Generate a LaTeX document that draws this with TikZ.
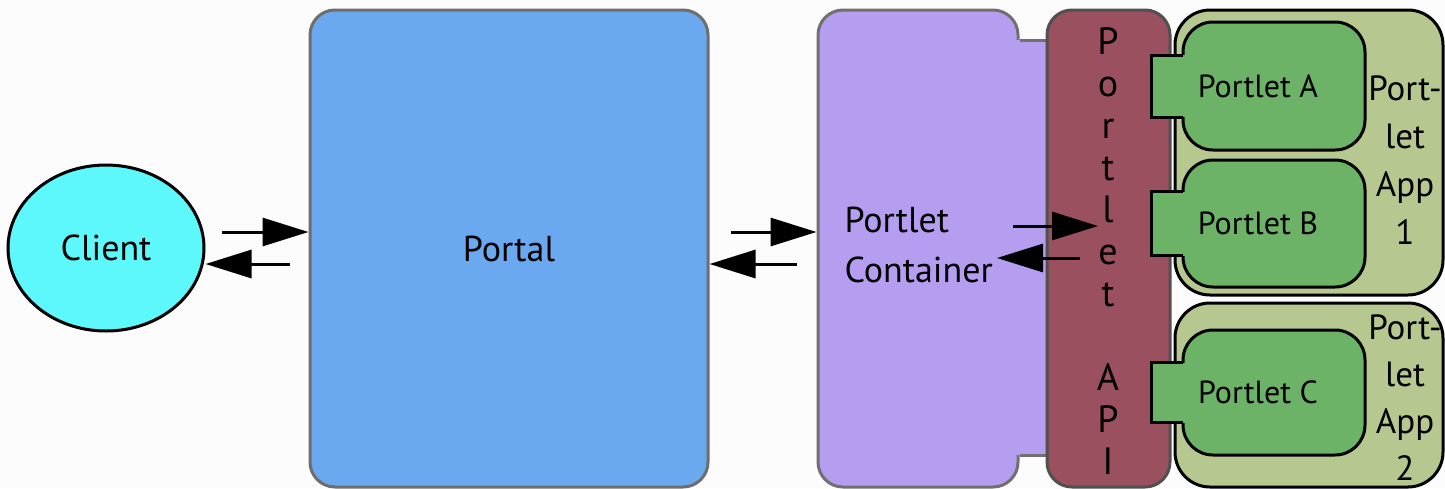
\documentclass[tikz,border=0pt]{standalone}
\usepackage{fontspec}
\setmainfont{PT Sans}
\usetikzlibrary{arrows.meta,shapes.geometric,calc}
\definecolor{bg}{HTML}{FCFCFC}
\definecolor{clientc}{HTML}{5CF8FC}
\definecolor{portalc}{HTML}{6AA8F0}
\definecolor{portalb}{HTML}{6E6E6E}
\definecolor{contc}{HTML}{B59DEF}
\definecolor{contb}{HTML}{707070}
\definecolor{apic}{HTML}{9A505F}
\definecolor{apib}{HTML}{505050}
\definecolor{appc}{HTML}{B6C88F}
\definecolor{portc}{HTML}{6CB367}
\tikzset{
  bigfont/.style={font=\fontsize{36}{50}\selectfont},
  box/.style={rectangle, rounded corners=25pt, line width=3pt, inner sep=0pt},
  appbox/.style={rectangle, rounded corners=35pt, line width=3pt, draw=black, fill=appc, inner sep=0pt, minimum width=268pt},
  portbox/.style={rectangle, rounded corners=30pt, line width=3pt, draw=black, fill=portc, inner sep=0pt, minimum width=182pt},
  portlabel/.style={font=\fontsize{32}{40}\selectfont, xshift=-16pt},
  arr/.style={line width=3pt, -{Triangle[length=46pt,width=28pt]}},
}
\begin{document}
\begin{tikzpicture}[x=1pt,y=-1pt]
\fill[bg] (0,0) rectangle (1445,488);
\useasboundingbox (0,0) rectangle (1445,488);

% client
\node[ellipse, draw=black, line width=3pt, fill=clientc, minimum width=196pt, minimum height=166pt, inner sep=0pt, bigfont] (client) at (106,248) {Client};

% portal
\node[box, draw=portalb, fill=portalc, minimum width=398pt, minimum height=477pt, bigfont] (portal) at (509,248.5) {Portal};

% portlet container
\node[box, draw=contb, fill=contc, minimum width=200pt, minimum height=477pt] (container) at (918,248.5) {};
\fill[contc] (1015,40) rectangle (1052,455);
\draw[contb, line width=3pt] (container.east |- 0,40) -- (1052,40);
\draw[contb, line width=3pt] (container.east |- 0,455) -- (1052,455);
\node[bigfont, align=left, anchor=west] (ctext) at (841,245) {Portlet\\Container};

% portlet API
\node[box, draw=apib, fill=apic, minimum width=123pt, minimum height=477pt] (api) at (1108.5,248.5) {};
\node[font=\fontsize{38}{42}\selectfont, align=center] (apitext) at (1108,251) {P\\o\\r\\t\\l\\e\\t\\[42pt]A\\P\\I};

% portlet apps
\node[appbox, minimum height=285pt] (app1) at (1309,152.5) {};
\node[appbox, minimum height=184pt] (app2) at (1309,395) {};
\node[bigfont, align=center, font=\fontsize{35}{48}\selectfont] (app1text) at (1405,160) {Port-\\let\\App\\1};
\node[bigfont, align=center, font=\fontsize{35}{47}\selectfont] (app2text) at (1405,398) {Port-\\let\\App\\2};

% portlets
\node[portbox, minimum height=128pt, label={[portlabel]center:Portlet A}] (pa) at (1274,86) {};
\node[portbox, minimum height=127pt, label={[portlabel]center:Portlet B}] (pb) at (1274,223.5) {};
\node[portbox, minimum height=125pt, label={[portlabel]center:Portlet C}] (pc) at (1274,392.5) {};
\foreach \p/\h in {pa/31, pb/32, pc/30}{
  \fill[portc] ($(\p.west)+(-30,-\h)$) rectangle ($(\p.west)+(3,\h)$);
  \draw[line width=3pt, line join=miter] ($(\p.west)+(1.5,-\h)$) -- ++(-31.5,0) -- ++(0,2*\h) -- ++(31.5,0);
}

% arrows
\coordinate (a1) at (222,232);
\coordinate (a2) at (290,264);
\coordinate (a3) at (731,232);
\coordinate (a4) at (797,264);
\coordinate (a5) at (1013,226);
\coordinate (a5e) at (1098,226);
\coordinate (a6) at (1080,258);
\coordinate (a6e) at (997,258);
\draw[arr] (a1) -- (a1 -| portal.west);
\draw[arr] (a2) -- (a2 -| client.east);
\draw[arr] (a3) -- (a3 -| container.west);
\draw[arr] (a4) -- (a4 -| portal.east);
\draw[arr] (a5) -- (a5e);
\draw[arr] (a6) -- (a6e);
\end{tikzpicture}
\end{document}
